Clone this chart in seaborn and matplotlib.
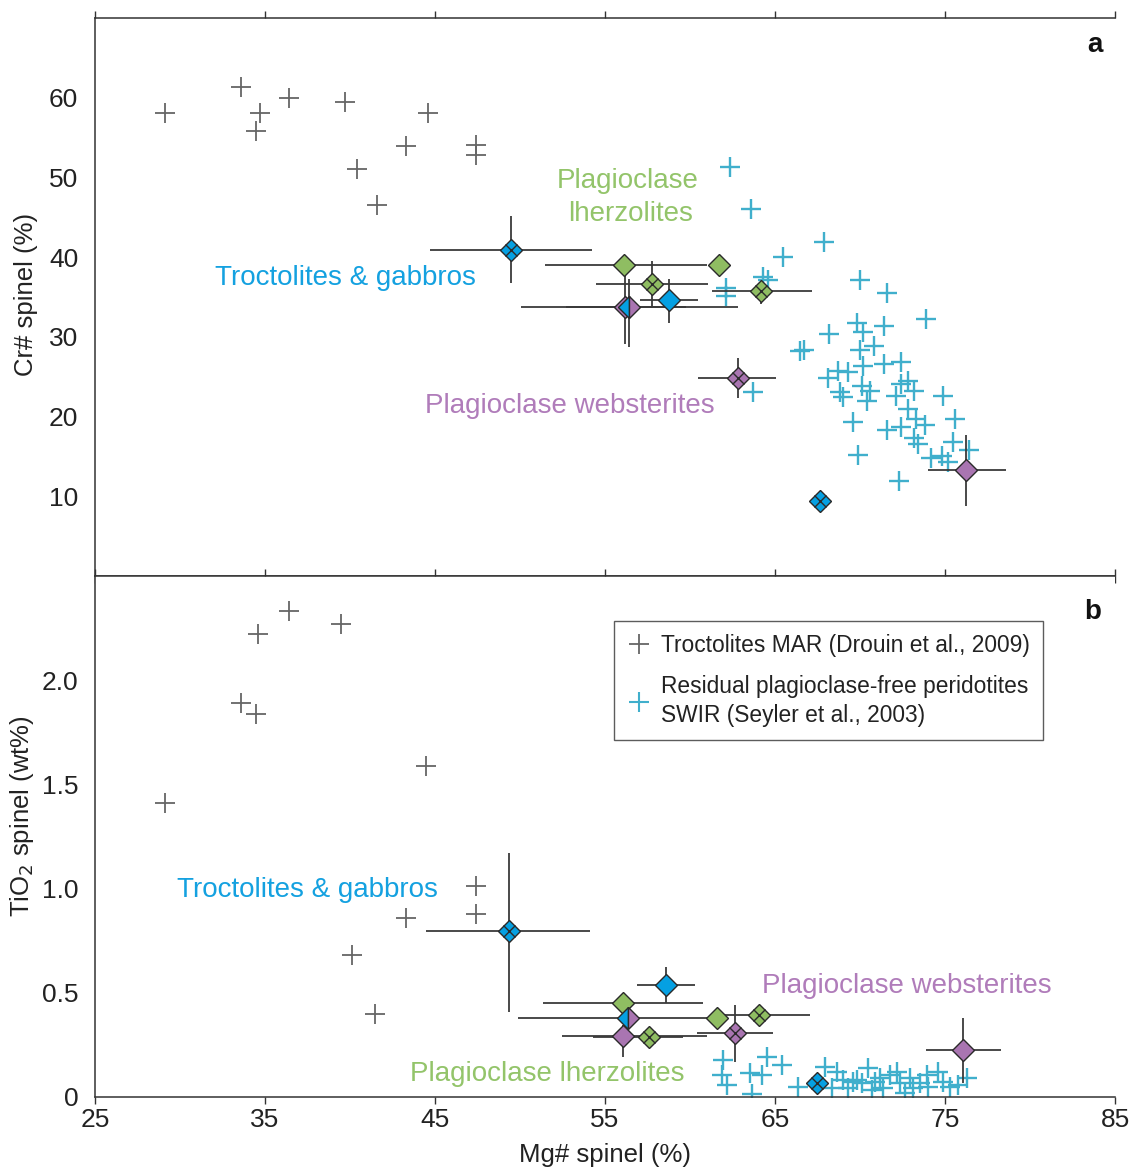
import numpy as np
import pandas as pd
import matplotlib
matplotlib.use('Agg')
import matplotlib.pyplot as plt
import seaborn as sns
from matplotlib.lines import Line2D

sns.set_theme(style='white')
plt.rcParams['font.family'] = ['Liberation Sans', 'DejaVu Sans']

# ---------------- data ----------------
# Troctolites MAR (Drouin et al., 2009)
mar_top_x = [29.1, 33.6, 34.7, 34.5, 36.4, 39.7, 44.6, 43.3, 40.4, 41.6, 47.4, 47.4]
mar_top_y = [58.1, 61.3, 58.1, 55.8, 60.0, 59.4, 58.1, 53.9, 51.0, 46.5, 54.1, 52.8]
mar_bot_x = [29.1, 33.6, 34.5, 34.6, 36.4, 39.5, 44.5, 47.4, 47.4, 43.3, 40.1, 41.5]
mar_bot_y = [1.41, 1.89, 1.84, 2.22, 2.33, 2.27, 1.59, 1.01, 0.88, 0.86, 0.68, 0.40]

# Residual plagioclase-free peridotites SWIR (Seyler et al., 2003)
swir_top_x = [62.35, 63.6, 67.9, 65.5, 70.0, 64.3, 64.6, 62.1, 62.1, 69.8, 70.2, 68.2,
              66.5, 66.7, 63.7, 71.6, 73.9, 71.4, 70.8, 70.0, 70.2, 71.4, 72.4, 68.1,
              68.7, 69.3, 68.8, 69.0, 70.1, 70.6, 70.4, 72.1, 72.8, 73.2, 72.4, 74.9,
              72.8, 73.3, 73.8, 75.6, 69.6, 71.6, 72.4, 73.2, 73.4, 75.5, 76.4, 69.9,
              74.2, 74.8, 75.2, 72.3]
swir_top_y = [51.3, 46.1, 41.9, 40.0, 37.1, 37.5, 37.1, 36.1, 35.1, 31.7, 30.6, 30.3,
              28.2, 28.3, 23.1, 35.5, 32.2, 31.3, 28.9, 28.4, 26.4, 26.6, 26.8, 24.8,
              25.7, 25.6, 23.1, 22.4, 23.8, 23.2, 21.9, 22.6, 24.4, 23.2, 24.1, 22.6,
              20.9, 19.7, 19.0, 19.7, 19.3, 18.3, 18.7, 17.3, 16.5, 16.8, 15.8, 15.2,
              14.8, 15.0, 14.3, 11.9]
swir_bot_x = [61.94, 61.88, 62.18, 63.65, 63.53, 64.24, 64.53, 65.41, 66.35, 67.94, 68.65,
              69.0, 69.59, 70.12, 70.47, 70.88, 71.35, 72.18, 72.35, 72.94, 73.12, 73.94,
              74.0, 74.59, 74.88, 75.29, 76.29, 69.82, 71.76, 73.53, 71.18, 69.29, 72.65,
              68.35, 70.7, 75.76]
swir_bot_y = [0.177, 0.106, 0.058, 0.014, 0.115, 0.106, 0.192, 0.153, 0.048, 0.144, 0.120,
              0.082, 0.072, 0.067, 0.139, 0.072, 0.043, 0.120, 0.067, 0.091, 0.043, 0.106,
              0.048, 0.120, 0.072, 0.048, 0.091, 0.082, 0.106, 0.067, 0.091, 0.043, 0.019,
              0.043, 0.034, 0.058]

# This study: group, marker kind, value, x-range, y-range (None = no bar)
top_group = ['troc', 'lherz', 'lherz', 'lherz', 'lherz', 'troc', 'webst', 'mixed', 'webst', 'webst', 'troc']
top_kind = ['cross', 'plain', 'plain', 'cross', 'cross', 'plain', 'plain', 'half', 'cross', 'plain', 'cross']
top_x = [49.47, 56.1, 61.7, 57.76, 64.2, 58.76, 56.18, 56.41, 62.82, 76.24, 67.65]
top_y = [40.85, 39.0, 39.0, 36.6, 35.8, 34.6, 33.8, 33.8, 24.8, 13.3, 9.4]
top_xlo = [44.7, 51.5, None, 54.5, 61.3, 57.06, 50.06, 52.7, 60.5, 74.0, None]
top_xhi = [54.24, 61.0, None, 61.06, 67.2, 60.47, 62.8, 59.76, 65.06, 78.6, None]
top_ylo = [36.8, None, None, 33.6, 34.1, 31.7, 29.1, 28.7, 22.3, 8.8, None]
top_yhi = [45.1, None, None, 39.5, 37.0, 37.3, 37.6, 37.2, 27.3, 17.7, None]

bot_group = ['troc', 'troc', 'lherz', 'mixed', 'lherz', 'lherz', 'webst', 'webst', 'lherz', 'webst', 'troc']
bot_kind = ['cross', 'plain', 'plain', 'half', 'plain', 'cross', 'cross', 'plain', 'cross', 'plain', 'cross']
bot_x = [49.35, 58.6, 56.06, 56.35, 61.6, 64.06, 62.65, 56.06, 57.6, 76.06, 67.47]
bot_y = [0.796, 0.537, 0.451, 0.379, 0.379, 0.393, 0.307, 0.293, 0.288, 0.225, 0.067]
bot_xlo = [44.5, 56.9, 51.35, 49.9, None, 61.8, 60.4, 52.5, 54.3, 73.9, None]
bot_xhi = [54.1, 60.3, 60.76, 61.0, None, 67.06, 64.9, 61.0, 59.6, 78.3, None]
bot_ylo = [0.41, 0.45, None, 0.331, None, None, 0.168, 0.192, None, 0.067, None]
bot_yhi = [1.17, 0.624, None, 0.427, None, None, 0.441, 0.345, None, 0.379, None]

x_ticks = [25, 35, 45, 55, 65, 75, 85]
top_yticks = [10, 20, 30, 40, 50, 60]
bot_yticks = [0, 0.5, 1.0, 1.5, 2.0]
bot_yticklabels = ['0', '0.5', '1.0', '1.5', '2.0']

# ---------------- style ----------------
C_BLUE = '#05a0e2'
C_GREEN = '#8fbd62'
C_PURPLE = '#a975b1'
T_BLUE = '#14a1e0'
T_GREEN = '#93c46a'
T_PURPLE = '#b07cba'
C_CYAN = '#40afcc'
C_GREY = '#666666'
C_EDGE = '#2a2a2a'
FILL = {'troc': C_BLUE, 'lherz': C_GREEN, 'webst': C_PURPLE}
MS = 11.6

fig = plt.figure(figsize=(11.29, 11.69), dpi=100)
ax1 = fig.add_axes([0.0841, 0.5073, 0.9035, 0.4773])
ax2 = fig.add_axes([0.0841, 0.0616, 0.9035, 0.4457])


def draw_crosses(ax, xs, ys, color, size, lw, z):
    df = pd.DataFrame({'x': xs, 'y': ys})
    sns.scatterplot(data=df, x='x', y='y', marker='+', s=size ** 2, color=color,
                    linewidth=lw, ax=ax, legend=False, zorder=z)


def draw_samples(ax, groups, kinds, xs, ys, xlo, xhi, ylo, yhi):
    for g, k, x, y, a, b, c, d in zip(groups, kinds, xs, ys, xlo, xhi, ylo, yhi):
        if a is not None:
            ax.plot([a, b], [y, y], color='#3a3a3a', lw=1.3, zorder=3, solid_capstyle='butt')
        if c is not None:
            ax.plot([x, x], [c, d], color='#3a3a3a', lw=1.3, zorder=3, solid_capstyle='butt')
    for g, k, x, y in zip(groups, kinds, xs, ys):
        if k == 'half':
            ax.plot([x], [y], marker='D', ms=MS, ls='none', fillstyle='left',
                    markerfacecolor=C_BLUE, markerfacecoloralt=C_PURPLE,
                    markeredgecolor=C_EDGE, markeredgewidth=1.0, zorder=6)
        else:
            ax.plot([x], [y], marker='D', ms=MS, ls='none', markerfacecolor=FILL[g],
                    markeredgecolor=C_EDGE, markeredgewidth=1.0, zorder=5)
            if k == 'cross':
                ax.plot([x], [y], marker='x', ms=MS * 0.707, ls='none',
                        markeredgecolor=C_EDGE, markeredgewidth=1.0, zorder=6)


# panel a
draw_crosses(ax1, mar_top_x, mar_top_y, C_GREY, 15, 1.3, 2)
draw_crosses(ax1, swir_top_x, swir_top_y, C_CYAN, 14, 1.7, 2)
draw_samples(ax1, top_group, top_kind, top_x, top_y, top_xlo, top_xhi, top_ylo, top_yhi)

# panel b
draw_crosses(ax2, mar_bot_x, mar_bot_y, C_GREY, 15, 1.3, 2)
draw_crosses(ax2, swir_bot_x, swir_bot_y, C_CYAN, 14, 1.7, 2)
draw_samples(ax2, bot_group, bot_kind, bot_x, bot_y, bot_xlo, bot_xhi, bot_ylo, bot_yhi)

# axes styling
for ax in (ax1, ax2):
    ax.set_xlim(25, 85)
    ax.set_xticks(x_ticks)
    ax.spines['right'].set_visible(False)
    for s in ('left', 'top', 'bottom'):
        ax.spines[s].set_visible(True)
        ax.spines[s].set_color('#333333')
        ax.spines[s].set_linewidth(1.1)
    ax.tick_params(axis='x', top=True, bottom=True, direction='out', length=5,
                   width=1.0, color='#333333', labelsize=19, labelcolor='#222222', pad=3)
    ax.tick_params(axis='y', left=True, length=0, labelsize=19, labelcolor='#222222', pad=12)
    ax.set_facecolor('white')
    ax.grid(False)

ax1.set_ylim(0, 70)
ax1.set_yticks(top_yticks)
ax1.tick_params(axis='x', labelbottom=False, labeltop=False)
ax1.set_xlabel('')
ax1.set_ylabel('Cr# spinel (%)', fontsize=18.5, color='#222222')
ax1.yaxis.set_label_coords(-0.056, 0.504)

ax2.set_ylim(0, 2.5)
ax2.set_yticks(bot_yticks)
ax2.set_yticklabels(bot_yticklabels)
ax2.tick_params(axis='x', labeltop=False)
ax2.set_xlabel('Mg# spinel (%)', fontsize=18.5, color='#222222')
ax2.xaxis.set_label_coords(0.5, -0.088)
ax2.set_ylabel('TiO$_2$ spinel (wt%)', fontsize=18.5, color='#222222')
ax2.yaxis.set_label_coords(-0.058, 0.54)

# panel letters
ax1.text(0.980, 0.952, 'a', transform=ax1.transAxes, fontsize=20, fontweight='bold',
         ha='center', va='center', color='#111111')
ax2.text(0.978, 0.931, 'b', transform=ax2.transAxes, fontsize=20, fontweight='bold',
         ha='center', va='center', color='#111111')

# group annotations
FS = 20
ax1.text(56.35, 49.5, 'Plagioclase', color=T_GREEN, fontsize=FS, ha='center', va='center')
ax1.text(56.5, 45.4, 'lherzolites', color=T_GREEN, fontsize=FS, ha='center', va='center')
ax1.text(39.76, 37.35, 'Troctolites & gabbros', color=T_BLUE, fontsize=FS, ha='center', va='center')
ax1.text(52.94, 21.3, 'Plagioclase websterites', color=T_PURPLE, fontsize=FS, ha='center', va='center')
ax2.text(37.5, 0.992, 'Troctolites & gabbros', color=T_BLUE, fontsize=FS, ha='center', va='center')
ax2.text(72.76, 0.532, 'Plagioclase websterites', color=T_PURPLE, fontsize=FS, ha='center', va='center')
ax2.text(51.6, 0.11, 'Plagioclase lherzolites', color=T_GREEN, fontsize=FS, ha='center', va='center')

# legend
handles = [Line2D([], [], marker='+', ls='none', color=C_GREY, ms=15, mew=1.3),
           Line2D([], [], marker='+', ls='none', color=C_CYAN, ms=15, mew=1.5)]
labels = ['Troctolites MAR (Drouin et al., 2009)',
          'Residual plagioclase-free peridotites\nSWIR (Seyler et al., 2003)']
leg = ax2.legend(handles, labels, loc='upper left', bbox_to_anchor=(0.509, 0.914),
                 fontsize=16.4, frameon=True, fancybox=False, edgecolor='#333333',
                 handlelength=1.0, handletextpad=0.45, borderpad=0.6, labelspacing=0.75,
                 borderaxespad=0)
leg.get_frame().set_linewidth(1.0)
for t in leg.get_texts():
    t.set_color('#222222')
    t.set_linespacing(1.35)

fig.savefig('out.png', dpi=100, facecolor='white')
